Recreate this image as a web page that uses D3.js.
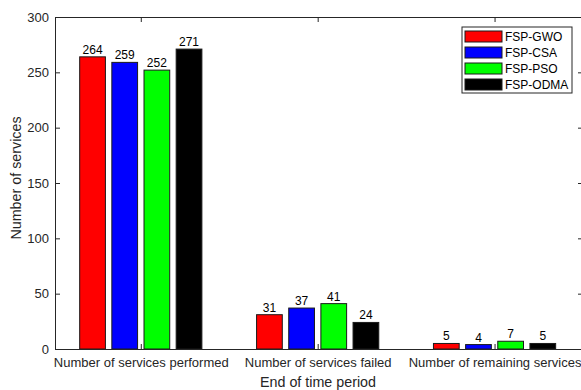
<!DOCTYPE html>
<html>
<head>
<meta charset="utf-8">
<script src="https://cdn.jsdelivr.net/npm/d3@7"></script>
<style>
  body { margin: 0; background: #fff; }
  text { font-family: "Liberation Sans", Arial, sans-serif; fill: #262626; }
</style>
</head>
<body>
<div id="chart"></div>
<script>
let categories = ["Number of services performed", "Number of services failed", "Number of remaining services"];
let seriesNames = ["FSP-GWO", "FSP-CSA", "FSP-PSO", "FSP-ODMA"];
let gwo = [264, 31, 5];
let csa = [259, 37, 4];
let pso = [252, 41, 7];
let odma = [271, 24, 5];
let seriesColors = ["#ff0000", "#0000ff", "#00ff00", "#000000"];
let yTicks = [0, 50, 100, 150, 200, 250, 300];

let allValues = [gwo, csa, pso, odma];
let width = 581, height = 390;
let plotLeft = 55, plotRight = 583, plotTop = 17, plotBottom = 349;

let svg = d3.select("#chart").append("svg")
    .attr("width", width).attr("height", height);

let x = d3.scaleLinear().domain([0.515, 3.5]).range([plotLeft, plotRight]);
let y = d3.scaleLinear().domain([0, 300]).range([plotBottom, plotTop]);

// matlab style grouped bars
let nSeries = seriesNames.length;
let groupW = Math.min(0.8, nSeries / (nSeries + 1.5));
let slot = groupW / nSeries;
let barW = slot * 0.8;

let bars = [];
allValues.forEach((vals, s) => {
    vals.forEach((v, c) => {
        bars.push({ s: s, c: c, v: v, xc: (c + 1) - groupW / 2 + slot * (s + 0.5) });
    });
});

svg.append("g").selectAll("rect").data(bars).join("rect")
    .attr("x", d => x(d.xc - barW / 2))
    .attr("width", d => x(d.xc + barW / 2) - x(d.xc - barW / 2))
    .attr("y", d => y(d.v))
    .attr("height", d => y(0) - y(d.v))
    .attr("fill", d => seriesColors[d.s])
    .attr("stroke", "#1a1a1a").attr("stroke-width", 1);

svg.append("g").selectAll("text").data(bars).join("text")
    .attr("x", d => x(d.xc))
    .attr("y", d => y(d.v) - 3)
    .attr("text-anchor", "middle")
    .attr("font-size", 12)
    .style("fill", "#000")
    .text(d => d.v);

// axes
let axisColor = "#262626";
let yLeft = svg.append("g").attr("transform", `translate(${plotLeft},0)`)
    .call(d3.axisLeft(y).tickValues(yTicks).tickSizeInner(-5).tickSizeOuter(0).tickPadding(6));
let yRight = svg.append("g").attr("transform", `translate(${plotRight},0)`)
    .call(d3.axisRight(y).tickValues(yTicks).tickSizeInner(-5).tickSizeOuter(0).tickFormat(""));
let xBottom = svg.append("g").attr("transform", `translate(0,${plotBottom})`)
    .call(d3.axisBottom(x).tickValues([1, 2, 3]).tickSizeInner(-5).tickSizeOuter(0).tickPadding(9)
        .tickFormat((d, i) => categories[i]));
let xTop = svg.append("g").attr("transform", `translate(0,${plotTop})`)
    .call(d3.axisTop(x).tickValues([1, 2, 3]).tickSizeInner(-5).tickSizeOuter(0).tickFormat(""));

[yLeft, yRight, xBottom, xTop].forEach(g => {
    g.selectAll("path, line").attr("stroke", axisColor);
    g.selectAll("text").attr("font-size", 13).style("fill", axisColor)
        .attr("font-family", "'Liberation Sans', Arial, sans-serif");
});

svg.append("text").attr("x", 318).attr("y", 386.5)
    .attr("text-anchor", "middle").attr("font-size", 14.3).text("End of time period");

svg.append("text").attr("transform", "translate(21,178) rotate(-90)")
    .attr("text-anchor", "middle").attr("font-size", 14.3).text("Number of services");

// legend
let legend = svg.append("g").attr("transform", "translate(462,27)");
legend.append("rect").attr("width", 110).attr("height", 66)
    .attr("fill", "#fff").attr("stroke", axisColor).attr("stroke-width", 1);
let items = legend.selectAll(".item").data(seriesNames).join("g")
    .attr("class", "item")
    .attr("transform", (d, i) => `translate(0,${9 + i * 16})`);
items.append("rect").attr("x", 3).attr("y", -5).attr("width", 37).attr("height", 11)
    .attr("fill", (d, i) => seriesColors[i]).attr("stroke", "#1a1a1a");
items.append("text").attr("x", 43).attr("y", 5)
    .attr("font-size", 12).style("fill", "#000").text(d => d);
</script>
</body>
</html>
